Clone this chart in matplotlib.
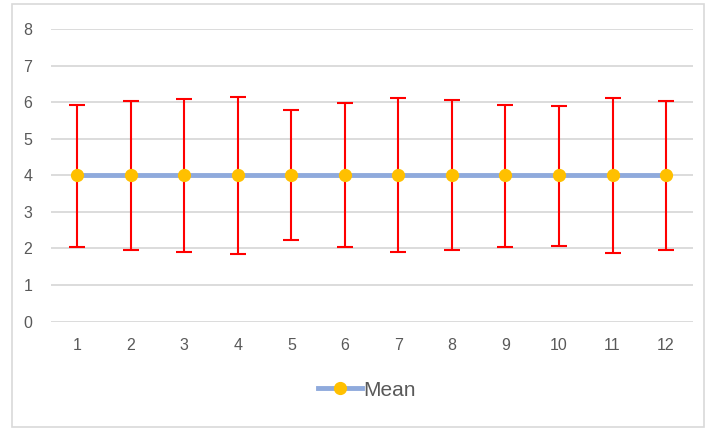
import matplotlib
matplotlib.use("Agg")
import matplotlib.pyplot as plt
from matplotlib.patches import Rectangle
from matplotlib.lines import Line2D

categories = [1, 2, 3, 4, 5, 6, 7, 8, 9, 10, 11, 12]
mean_values = [4, 4, 4, 4, 4, 4, 4, 4, 4, 4, 4, 4]
upper_values = [5.93, 6.04, 6.08, 6.14, 5.78, 5.98, 6.11, 6.06, 5.93, 5.90, 6.11, 6.04]
lower_values = [2.05, 1.97, 1.90, 1.84, 2.24, 2.03, 1.90, 1.95, 2.05, 2.08, 1.87, 1.97]
y_ticks = [0, 1, 2, 3, 4, 5, 6, 7, 8]

err_low = [m - l for m, l in zip(mean_values, lower_values)]
err_high = [u - m for m, u in zip(mean_values, upper_values)]

plt.rcParams['font.family'] = ['Liberation Sans', 'DejaVu Sans']

W, H = 706, 429
fig = plt.figure(figsize=(W / 100, H / 100), dpi=100)
fig.patch.set_facecolor('white')

# outer chart border
fig.patches.append(Rectangle((12 / W, 1 - 427 / H), (704 - 12) / W, (427 - 4) / H,
                             transform=fig.transFigure, fill=False,
                             edgecolor='#D9D9D9', linewidth=1.2))

ax = fig.add_axes([50.5 / W, 1 - 321.5 / H, (692.8 - 50.5) / W, (321.5 - 29.3) / H])
ax.set_xlim(0.5, 12.5)
ax.set_ylim(0, 8)
ax.set_yticks(y_ticks)
ax.set_xticks(categories)
ax.set_xticklabels([str(c) for c in categories])
for s in ax.spines.values():
    s.set_visible(False)
ax.grid(axis='y', color='#D9D9D9', linewidth=1.3)
ax.set_axisbelow(True)
ax.tick_params(length=0, labelsize=11.5, colors='#595959')
ax.tick_params(axis='x', pad=12)
ax.tick_params(axis='y', pad=13)

ax.errorbar(categories, mean_values, yerr=[err_low, err_high], fmt='none',
            ecolor='#FF0000', elinewidth=1.5, capsize=5.5, capthick=1.5, zorder=2)
ax.plot(categories, mean_values, color='#8FAADC', linewidth=3.5, zorder=3)
ax.plot(categories, mean_values, linestyle='none', marker='o', markersize=8.5,
        markerfacecolor='#FFC000', markeredgecolor='#FFC000', zorder=4)

handle = Line2D([], [], color='#8FAADC', linewidth=3.5, marker='o', markersize=8.5,
                markerfacecolor='#FFC000', markeredgecolor='#FFC000')
fig.legend([handle], ['Mean'], loc='center', bbox_to_anchor=(367 / W, 1 - 390 / H),
           frameon=False, fontsize=15, labelcolor='#595959', handlelength=2.1,
           handletextpad=0.05)

fig.savefig('out.png', dpi=100, facecolor='white')
